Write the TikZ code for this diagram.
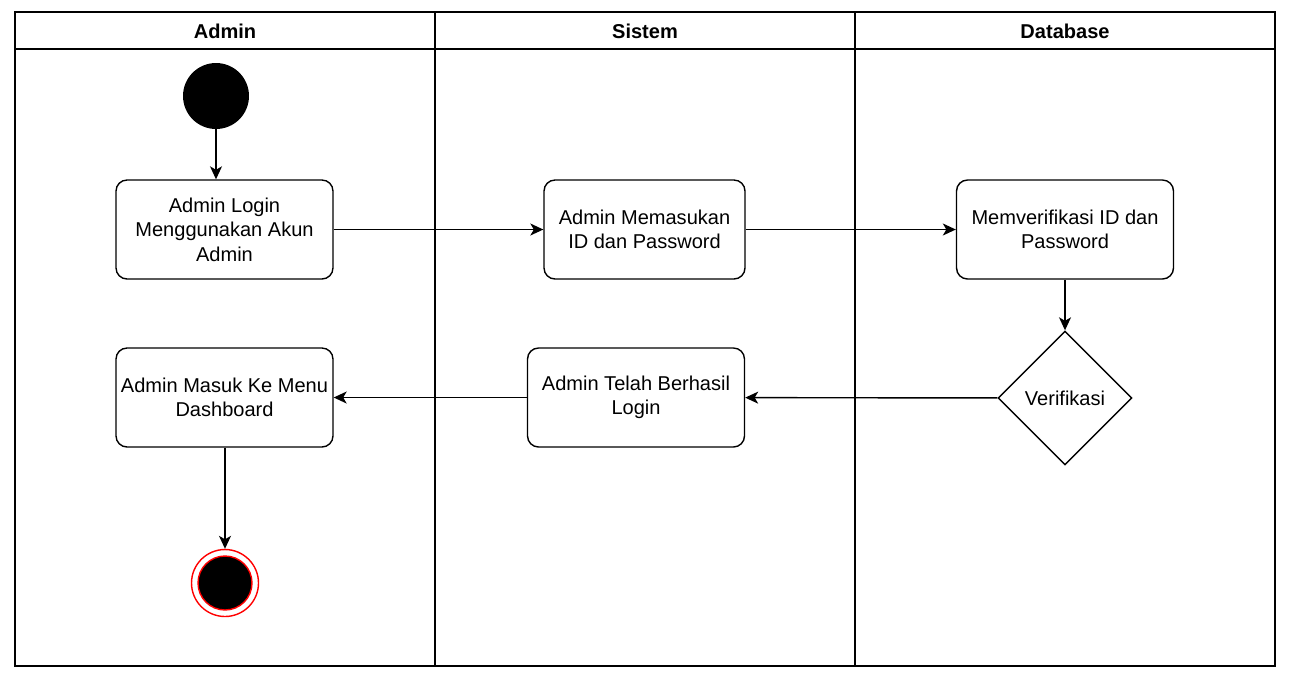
\documentclass[tikz,border=0pt]{standalone}
\usepackage{fontspec}
\setmainfont{Liberation Sans}
\usepackage{tikz}
\usetikzlibrary{shapes.geometric, arrows.meta, positioning}
\tikzset{
    lane/.style={draw=black, line width=0.8pt},
    lanehead/.style={font=\fontsize{11.4}{14}\selectfont\bfseries, anchor=center},
    activity/.style={rectangle, rounded corners=0.22cm, minimum width=4.34cm, minimum height=1.98cm, align=center, draw=black, line width=0.8pt, fill=white, font=\fontsize{11.4}{14}\selectfont, inner sep=1pt},
    decision/.style={diamond, aspect=1, minimum size=2.68cm, inner sep=0pt, align=center, draw=black, line width=0.8pt, fill=white, font=\fontsize{11.4}{14}\selectfont},
    startnode/.style={circle, fill=black, minimum size=1.32cm, inner sep=0pt},
    endnode/.style={circle, draw=red, line width=0.8pt, minimum size=1.34cm, inner sep=0pt},
    endcore/.style={circle, draw=red, fill=black, line width=0.8pt, minimum size=1.08cm, inner sep=0pt},
    arrow/.style={line width=0.8pt, -{Stealth[length=0.26cm, width=0.24cm, inset=0.07cm]}}
}

\begin{document}
\begin{tikzpicture}[x=0.02cm, y=-0.02cm]
    \useasboundingbox (0,0) rectangle (1304,681);
    % Swimlanes
    \draw [lane] (15,12) rectangle (1275,666);
    \draw [lane] (15,49) -- (1275,49);
    \draw [lane] (435,12) -- (435,666);
    \draw [lane] (855,12) -- (855,666);
    \node (laneA) [lanehead] at (225,31) {Admin};
    \node (laneS) [lanehead] at (645,31) {Sistem};
    \node (laneD) [lanehead] at (1065,31) {Database};

    % Admin lane
    \node (start) [startnode] at (216,96) {};
    \node (login) [activity] at (224.5,229.5) {Admin Login\\Menggunakan Akun\\Admin};
    \node (menu) [activity] at (224.5,397.5) {Admin Masuk Ke Menu\\Dashboard};
    \node (stop) [endnode] at (225,583) {};
    \node (stopcore) [endcore] at (225,583) {};

    % Sistem lane
    \node (input) [activity, minimum width=4.02cm] at (644.5,229.5) {Admin Memasukan\\ID dan Password};
    \node (sukses) [activity] at (636,397.5) {Admin Telah Berhasil\\Login};

    % Database lane
    \node (cek) [activity] at (1065,229.5) {Memverifikasi ID dan\\Password};
    \node (verif) [decision] at (1065,398) {Verifikasi};

    \draw [arrow] (start) -- (start |- login.north);
    \draw [arrow] (login) -- (input);
    \draw [arrow] (input) -- (cek);
    \draw [arrow] (cek) -- (verif);
    \draw [arrow] (verif) -- (sukses);
    \draw [arrow] (sukses) -- (menu);
    \draw [arrow] (menu.south -| stop) -- (stop);
\end{tikzpicture}
\end{document}
